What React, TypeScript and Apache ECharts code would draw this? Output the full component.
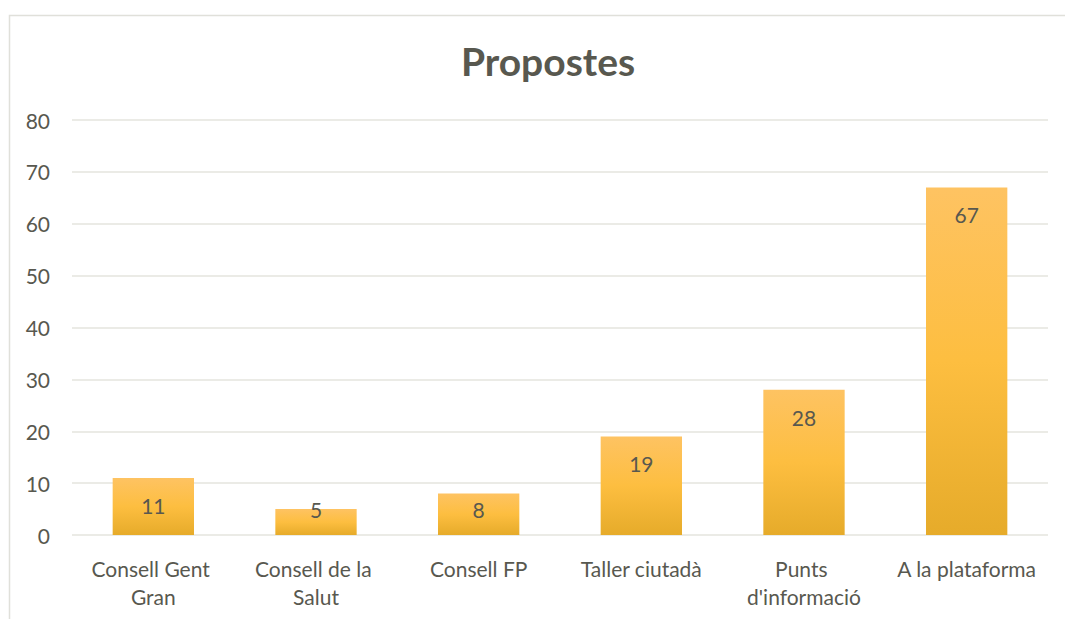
import React, { useEffect, useRef } from "react";
import * as echarts from "echarts";

const categories = [
  "Consell Gent Gran",
  "Consell de la Salut",
  "Consell FP",
  "Taller ciutadà",
  "Punts d'informació",
  "A la plataforma",
];
const values = [11, 5, 8, 19, 28, 67];
const yTicks = { min: 0, max: 80, interval: 10 };
const titleText = "Propostes";

const textColor = "#58584f";
const font = "Lato, 'Open Sans', sans-serif";

export default function App() {
  const ref = useRef<HTMLDivElement>(null);
  useEffect(() => {
    if (!ref.current) return;
    const chart = echarts.init(ref.current, undefined, { renderer: "svg" });
    const barColor = new echarts.graphic.LinearGradient(0, 0, 0, 1, [
      { offset: 0, color: "#fec362" },
      { offset: 0.5, color: "#fdbe40" },
      { offset: 1, color: "#e6ab2a" },
    ]);
    chart.setOption({
      animation: false,
      title: {
        text: titleText,
        left: 543,
        top: 36,
        textAlign: "center",
        textStyle: { fontFamily: font, fontWeight: "bold", fontSize: 39, color: textColor },
      },
      graphic: [
        {
          type: "rect",
          shape: { x: 9.5, y: 15.5, width: 1100, height: 700 },
          style: { fill: "none", stroke: "#e0e0da", lineWidth: 1.5 },
          silent: true,
        },
      ],
      grid: { left: 72, right: 17, top: 120, bottom: 84 },
      xAxis: {
        type: "category",
        data: categories,
        axisLine: { show: false },
        axisTick: { show: false },
        axisLabel: {
          color: textColor,
          fontFamily: font,
          fontSize: 21,
          lineHeight: 28,
          margin: 19,
          width: 158,
          overflow: "break",
          interval: 0,
        },
      },
      yAxis: {
        type: "value",
        min: yTicks.min,
        max: yTicks.max,
        interval: yTicks.interval,
        axisLine: { show: false },
        axisTick: { show: false },
        axisLabel: { color: textColor, fontFamily: font, fontSize: 21, margin: 22 },
        splitLine: { lineStyle: { color: "#e4e4de", width: 1.5 } },
      },
      series: [
        {
          type: "bar",
          barCategoryGap: "50%",
          data: values.map((v) => ({
            value: v,
            label:
              v < 10
                ? { position: "insideBottom", distance: 15 }
                : { position: "insideTop", distance: 17 },
          })),
          itemStyle: { color: barColor },
          label: {
            show: true,
            color: textColor,
            fontFamily: font,
            fontSize: 21,
          },
        },
      ],
    });
    return () => chart.dispose();
  }, []);
  return (
    <div
      ref={ref}
      style={{ position: "fixed", left: 0, top: 0, width: 1065, height: 619, background: "#fff" }}
    />
  );
}
